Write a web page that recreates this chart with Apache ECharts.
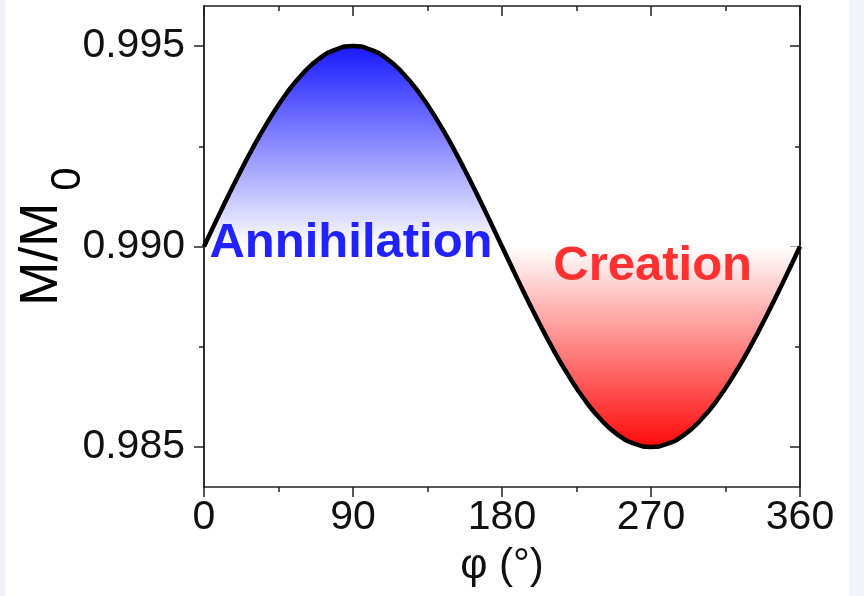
<!DOCTYPE html>
<html><head><meta charset="utf-8">
<script src="https://cdn.jsdelivr.net/npm/echarts@6/dist/echarts.min.js"></script>
<style>html,body{margin:0;padding:0;background:#fff}#c{width:864px;height:596px}</style>
</head><body><div id="c"></div>
<script>
// ---- data ----
const phi = [0,10,20,30,40,50,60,70,80,90,100,110,120,130,140,150,160,170,180,
             190,200,210,220,230,240,250,260,270,280,290,300,310,320,330,340,350,360];
const mRatio = [0.99000,0.99087,0.99171,0.99250,0.99321,0.99383,0.99433,0.99470,0.99492,0.99500,
                0.99492,0.99470,0.99433,0.99383,0.99321,0.99250,0.99171,0.99087,0.99000,
                0.98913,0.98829,0.98750,0.98679,0.98617,0.98567,0.98530,0.98508,0.98500,
                0.98508,0.98530,0.98567,0.98617,0.98679,0.98750,0.98829,0.98913,0.99000];
const baseline = 0.990;
const yMajorTicks = [0.985, 0.990, 0.995];
const yMinorTicks = [0.9875, 0.9925];
const annotationNames = ['Annihilation', 'Creation'];
const annotationPhi = [88.8, 271];
const annotationValue = [0.99008, 0.9895];

// ---- build ----
const pts = phi.map((p, i) => [p, mRatio[i]]);
const firstHalf = pts.filter(d => d[0] <= 180);
const secondHalf = pts.filter(d => d[0] >= 180);
const FONT = "'Liberation Sans', Arial, sans-serif";
const LS = { color: '#222', width: 1.5 };

const chart = echarts.init(document.getElementById('c'), null, { renderer: 'canvas' });

function yAxisDef(position, ticks, len, inside, labels, extra) {
  return Object.assign({
    type: 'value', position: position, min: 0.984, max: 0.996, scale: true,
    axisLine: { show: true, onZero: false, lineStyle: LS },
    axisTick: { show: true, inside: inside, length: len, customValues: ticks, lineStyle: LS },
    axisLabel: labels ? {
      show: true, customValues: ticks, margin: 19, fontSize: 41, fontFamily: FONT, color: '#111',
      formatter: v => Number(v).toFixed(3)
    } : { show: false },
    splitLine: { show: false }
  }, extra || {});
}

const option = {
  animation: false,
  backgroundColor: '#fff',
  graphic: [
    { type: 'rect', z: -10, shape: { x: 0, y: 0, width: 5, height: 596 }, style: { fill: '#f1f3fb' } },
    { type: 'rect', z: -10, shape: { x: 849, y: 0, width: 15, height: 596 }, style: { fill: '#f2f5fb' } }
  ],
  grid: { left: 204, right: 64, top: 6, bottom: 109, containLabel: false, outerBoundsMode: 'none' },
  xAxis: [
    {
      type: 'value', position: 'bottom', min: 0, max: 360, interval: 90,
      axisLine: { show: true, onZero: false, lineStyle: LS },
      axisTick: { show: true, inside: false, length: 10, lineStyle: LS },
      minorTick: { show: true, splitNumber: 2, length: 5, lineStyle: LS },
      axisLabel: { margin: 10, fontSize: 41, fontFamily: FONT, color: '#111' },
      splitLine: { show: false },
      name: 'φ (°)', nameLocation: 'middle', nameGap: 58, nameMoveOverlap: false,
      nameTextStyle: { fontSize: 42, fontFamily: FONT, color: '#111' }
    },
    {
      type: 'value', position: 'top', min: 0, max: 360, interval: 90,
      axisLine: { show: true, onZero: false, lineStyle: LS },
      axisTick: { show: true, inside: true, length: 10, lineStyle: LS },
      minorTick: { show: true, splitNumber: 2, length: 5, lineStyle: LS },
      axisLabel: { show: false }, splitLine: { show: false }
    }
  ],
  yAxis: [
    yAxisDef('left', yMajorTicks, 10, false, true, {
      name: '{m|M/M}{s|0}', nameLocation: 'middle', nameRotate: 90, nameGap: 128,
      nameMoveOverlap: false,
      nameTextStyle: {
        padding: [0, 0, 0, 20],
        rich: {
          m: { fontSize: 53, fontFamily: FONT, color: '#000', lineHeight: 60, verticalAlign: 'top' },
          s: { fontSize: 42, fontFamily: FONT, color: '#000', lineHeight: 40, verticalAlign: 'top', padding: [31, 0, 0, 12] }
        }
      }
    }),
    yAxisDef('left', yMinorTicks, 5, false, false),
    yAxisDef('right', yMajorTicks, 10, true, false),
    yAxisDef('right', yMinorTicks, 5, true, false)
  ],
  series: [
    {
      type: 'line', data: firstHalf, smooth: true, symbol: 'none', z: 1,
      lineStyle: { width: 0 },
      areaStyle: {
        origin: baseline, opacity: 1,
        color: new echarts.graphic.LinearGradient(0, 0, 0, 1, [
          { offset: 0, color: 'rgb(25,25,255)' },
          { offset: 1, color: 'rgba(255,255,255,1)' }
        ])
      }
    },
    {
      type: 'line', data: secondHalf, smooth: true, symbol: 'none', z: 1,
      lineStyle: { width: 0 },
      areaStyle: {
        origin: baseline, opacity: 1,
        color: new echarts.graphic.LinearGradient(0, 0, 0, 1, [
          { offset: 0, color: 'rgba(255,255,255,1)' },
          { offset: 1, color: 'rgb(255,10,10)' }
        ])
      }
    },
    {
      type: 'line', data: pts, smooth: true, symbol: 'none', z: 3,
      lineStyle: { width: 4.5, color: '#000' }
    },
    {
      type: 'scatter', z: 5, symbolSize: 0, silent: true,
      itemStyle: { opacity: 1 },
      data: annotationNames.map((n, i) => ({
        name: n, value: [annotationPhi[i], annotationValue[i]],
        label: { color: i === 0 ? '#2222ff' : '#ff3030' }
      })),
      label: {
        show: true, position: 'inside', formatter: p => p.name, opacity: 1,
        fontSize: 49, fontWeight: 'bold', fontFamily: FONT
      }
    }
  ]
};
chart.setOption(option);
</script></body></html>
